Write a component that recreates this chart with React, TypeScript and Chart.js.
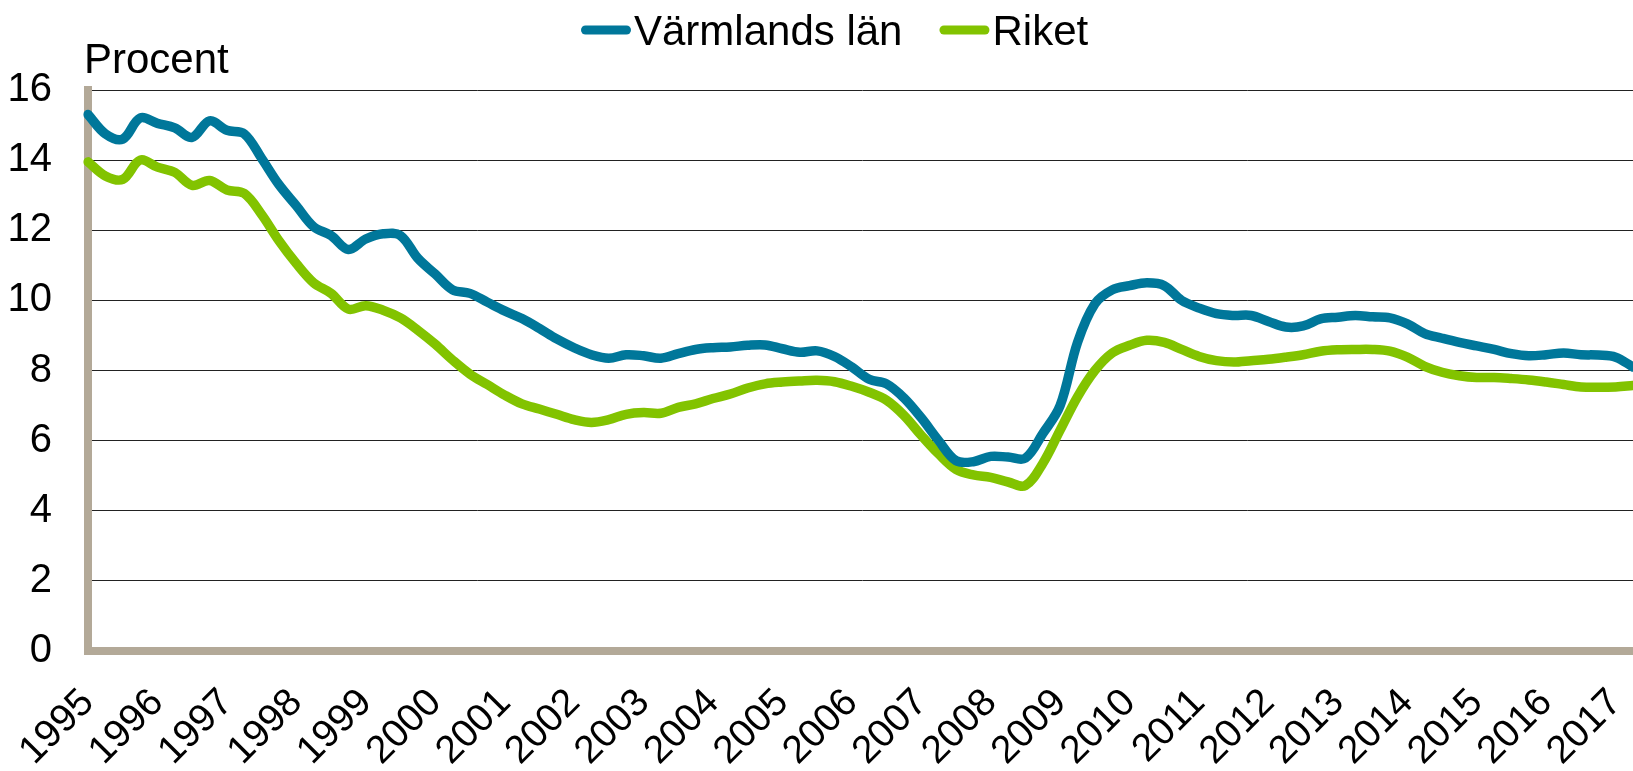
import React, { useEffect, useRef } from "react";
import { Chart, registerables } from "chart.js";

Chart.register(...registerables);

// Tick labels (one per year)
const tickYears = [
  "1995", "1996", "1997", "1998", "1999", "2000", "2001", "2002", "2003", "2004", "2005", "2006",
  "2007", "2008", "2009", "2010", "2011", "2012", "2013", "2014", "2015", "2016", "2017",
];

// Series labels
const seriesNames = ["Värmlands län", "Riket"];
const axisTitle = "Procent";

// Quarterly values, 1995 K1 – 2017 K2 (90 points)
const varmland = [
  15.3, 14.75, 14.6, 15.2, 15.05, 14.92, 14.65, 15.12, 14.85, 14.75,
  14.05, 13.3, 12.7, 12.1, 11.85, 11.45, 11.75, 11.9, 11.85, 11.2,
  10.75, 10.3, 10.2, 9.95, 9.7, 9.48, 9.2, 8.9, 8.65, 8.45,
  8.35, 8.45, 8.42, 8.35, 8.48, 8.6, 8.65, 8.67, 8.72, 8.73,
  8.62, 8.52, 8.56, 8.4, 8.1, 7.75, 7.62, 7.22, 6.65, 6.0,
  5.43, 5.4, 5.55, 5.53, 5.5, 6.2, 7.0, 8.8, 9.9, 10.3,
  10.42, 10.5, 10.42, 10.0, 9.78, 9.62, 9.57, 9.57, 9.4, 9.24,
  9.27, 9.47, 9.52, 9.57, 9.53, 9.5, 9.33, 9.05, 8.92, 8.8,
  8.7, 8.6, 8.48, 8.42, 8.45, 8.5, 8.45, 8.44, 8.38, 8.1,
];

const riket = [
  13.95, 13.55, 13.45, 14.0, 13.8, 13.65, 13.28, 13.42, 13.15, 13.05,
  12.45, 11.7, 11.05, 10.5, 10.2, 9.75, 9.85, 9.72, 9.5, 9.15,
  8.75, 8.3, 7.9, 7.6, 7.3, 7.05, 6.9, 6.75, 6.6, 6.52,
  6.6, 6.75, 6.8, 6.78, 6.95, 7.05, 7.2, 7.33, 7.5, 7.62,
  7.67, 7.7, 7.72, 7.68, 7.55, 7.38, 7.15, 6.72, 6.15, 5.62,
  5.18, 5.02, 4.95, 4.82, 4.72, 5.35, 6.3, 7.25, 8.0, 8.5,
  8.72, 8.86, 8.8, 8.6, 8.4, 8.28, 8.24, 8.28, 8.32, 8.38,
  8.45, 8.55, 8.59, 8.6, 8.6, 8.55, 8.38, 8.12, 7.95, 7.85,
  7.8, 7.8, 7.77, 7.73, 7.67, 7.6, 7.53, 7.52, 7.53, 7.57,
];

const quarterNames = ["K1", "K2", "K3", "K4"];
const categories: string[] = [];
tickYears.forEach((y) => quarterNames.forEach((q) => categories.push(`${y} ${q}`)));
const labels = categories.slice(0, varmland.length);

const BLUE = "#00779A";
const GREEN = "#82C300";
const TAN = "#B3A998";
const FONT = '"Liberation Sans", Arial, sans-serif';

const overlayPlugin = {
  id: "overlay",
  afterDraw(chart: any) {
    const ctx = chart.ctx as CanvasRenderingContext2D;
    ctx.save();
    ctx.font = `42px ${FONT}`;
    ctx.fillStyle = "#000";
    ctx.textBaseline = "alphabetic";
    ctx.textAlign = "left";
    ctx.fillText(axisTitle, 84, 73);

    // legend
    let x = 581;
    chart.data.datasets.forEach((ds: any) => {
      ctx.strokeStyle = ds.borderColor;
      ctx.lineWidth = 9;
      ctx.lineCap = "round";
      ctx.beginPath();
      ctx.moveTo(x + 4.5, 30);
      ctx.lineTo(x + 50 - 4.5, 30);
      ctx.stroke();
      x += 53;
      ctx.fillText(ds.label, x, 45);
      x += ctx.measureText(ds.label).width + 37;
    });
    ctx.restore();
  },
};

export default function App() {
  const ref = useRef<HTMLCanvasElement | null>(null);

  useEffect(() => {
    if (!ref.current) return;
    const chart = new Chart(ref.current, {
      type: "line",
      data: {
        labels,
        datasets: [
          {
            label: seriesNames[0],
            data: varmland,
            borderColor: BLUE,
            backgroundColor: BLUE,
            borderWidth: 9.5,
            pointRadius: 0,
            tension: 0.35,
            borderCapStyle: "round",
            borderJoinStyle: "round",
          },
          {
            label: seriesNames[1],
            data: riket,
            borderColor: GREEN,
            backgroundColor: GREEN,
            borderWidth: 9.5,
            pointRadius: 0,
            tension: 0.35,
            borderCapStyle: "round",
            borderJoinStyle: "round",
          },
        ],
      },
      options: {
        responsive: false,
        animation: false,
        devicePixelRatio: 1,
        layout: { padding: { top: 90, left: 0, right: 0, bottom: 0 } },
        plugins: {
          legend: { display: false },
          title: { display: false },
          tooltip: { enabled: false },
        },
        scales: {
          x: {
            type: "category",
            offset: false,
            grid: { display: false, drawTicks: false },
            border: { display: true, color: TAN, width: 8 },
            ticks: {
              autoSkip: false,
              minRotation: 45,
              maxRotation: 45,
              padding: 29,
              labelOffset: 0,
              color: "#000",
              font: { family: FONT, size: 39 },
              callback: (_v: any, i: number) => (i % 4 === 0 ? tickYears[i / 4] : ""),
            },
            afterFit: (s: any) => {
              s.height = 120;
              s.paddingLeft = 0;
              s.paddingRight = 0;
            },
          },
          y: {
            min: 0,
            max: 16,
            grid: { color: "#222", lineWidth: 1, drawTicks: false },
            border: { display: true, color: TAN, width: 8 },
            ticks: {
              stepSize: 2,
              padding: 36,
              color: "#000",
              font: { family: FONT, size: 40 },
            },
            afterFit: (s: any) => {
              s.width = 88;
            },
          },
        },
      },
      plugins: [overlayPlugin],
    });
    return () => chart.destroy();
  }, []);

  return (
    <div style={{ position: "absolute", left: 0, top: 0, width: 1633, height: 771, background: "#fff" }}>
      <canvas ref={ref} width={1633} height={771} />
    </div>
  );
}
